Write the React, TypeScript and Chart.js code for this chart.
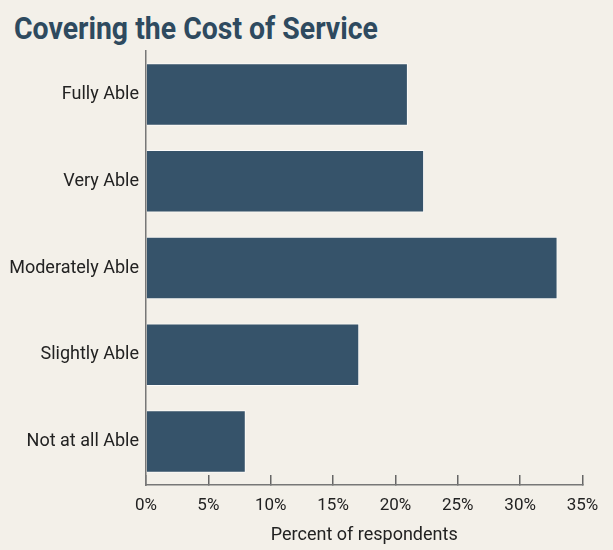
import React, { useEffect, useRef } from "react";
import { Chart, registerables } from "chart.js";

Chart.register(...registerables);

const categories = ["Fully Able", "Very Able", "Moderately Able", "Slightly Able", "Not at all Able"];
const percentValues = [21.0, 22.3, 33.0, 17.1, 8.0];
const tickValues = [0, 5, 10, 15, 20, 25, 30, 35];

const TITLE = "Covering the Cost of Service";
const AXIS_TITLE = "Percent of respondents";

const BG = "#f3f0e9";
const BAR = "#36536a";
const TEXT = "#222222";
const FONT = "Roboto, sans-serif";

export default function App() {
  const canvasRef = useRef<HTMLCanvasElement | null>(null);

  useEffect(() => {
    document.body.style.margin = "0";
    const canvas = canvasRef.current;
    if (!canvas) return;
    const chart = new Chart(canvas, {
      type: "bar",
      data: {
        labels: categories,
        datasets: [
          {
            data: percentValues,
            backgroundColor: BAR,
            borderColor: "rgba(255,255,255,0.75)",
            borderWidth: 1,
            barPercentage: 0.72,
            categoryPercentage: 1,
          },
        ],
      },
      options: {
        indexAxis: "y",
        animation: false,
        responsive: true,
        maintainAspectRatio: false,
        layout: { padding: { top: 51, right: 30.5, bottom: 0, left: 0 } },
        plugins: { legend: { display: false }, tooltip: { enabled: false } },
        scales: {
          x: {
            min: 0,
            max: 35,
            afterFit: (scale: any) => {
              scale.height = 65;
              scale.paddingLeft = 0;
              scale.paddingRight = 0;
            },
            afterBuildTicks: (scale: any) => {
              scale.ticks = tickValues.map((v) => ({ value: v }));
            },
            ticks: {
              callback: (v: any) => `${v}%`,
              color: TEXT,
              font: { family: FONT, size: 17 },
              padding: 21,
              maxRotation: 0,
            },
            grid: {
              drawOnChartArea: false,
              drawTicks: true,
              tickLength: -10,
              color: "#666",
              lineWidth: 1.5,
            },
            border: { display: true, color: "#777", width: 1.5 },
            title: {
              display: true,
              text: AXIS_TITLE,
              color: TEXT,
              font: { family: FONT, size: 18 },
              padding: { top: 0, bottom: 4 },
            },
          },
          y: {
            afterFit: (scale: any) => {
              scale.width = 146;
            },
            ticks: {
              color: TEXT,
              font: { family: FONT, size: 18 },
              padding: 7,
            },
            grid: { display: false, drawTicks: false },
            border: { display: true, color: "#777", width: 1.5 },
          },
        },
      },
    });
    return () => chart.destroy();
  }, []);

  return (
    <div style={{ position: "relative", width: 613, height: 550, background: BG, overflow: "hidden" }}>
      <div
        style={{
          position: "absolute",
          left: 14,
          top: 11,
          fontFamily: FONT,
          fontWeight: 700,
          fontSize: 31,
          color: "#2e4a5f",
          whiteSpace: "nowrap",
          lineHeight: "36px",
          transform: "scaleX(0.917)",
          transformOrigin: "left center",
        }}
      >
        {TITLE}
      </div>
      <canvas ref={canvasRef} style={{ position: "absolute", left: 0, top: 0 }} />
    </div>
  );
}
